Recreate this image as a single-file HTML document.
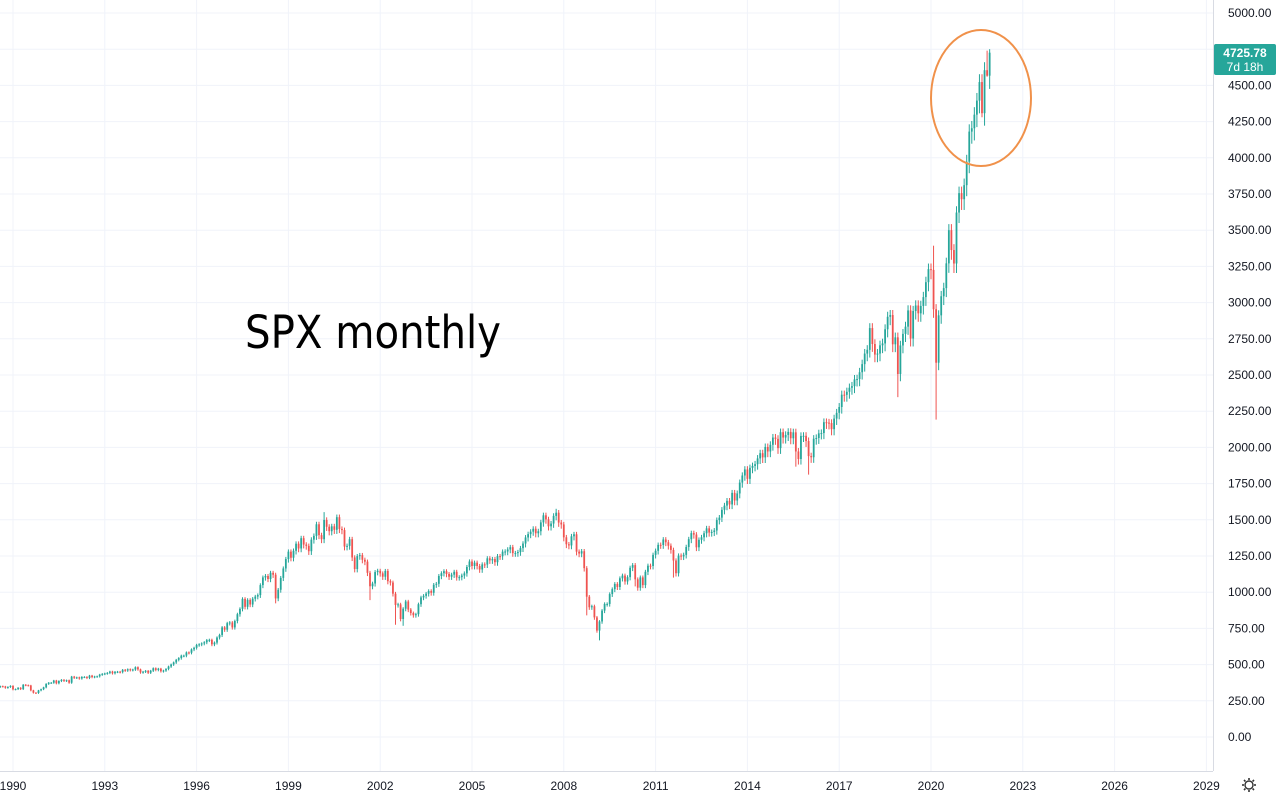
<!DOCTYPE html>
<html><head><meta charset="utf-8"><style>
html,body{margin:0;padding:0;background:#fff;overflow:hidden}
svg{display:block}
text{font-family:"Liberation Sans",sans-serif}
</style></head><body>
<svg id="c" width="1280" height="798">
<g id="grid"></g>
<g id="candles"></g>
<g id="yaxis"></g>
<g id="xaxis"></g>
<text x="245" y="348" font-size="45" fill="#000" textLength="256" lengthAdjust="spacingAndGlyphs" style="font-family:'DejaVu Sans',sans-serif">SPX monthly</text>
<ellipse cx="981" cy="98" rx="50" ry="68" fill="none" stroke="#f0914a" stroke-width="2"/>
<g>
<rect x="1214" y="44" width="62" height="31" rx="2" fill="#26a69a"/>
<text x="1245" y="57" font-size="12" font-weight="bold" fill="#fff" text-anchor="middle">4725.78</text>
<text x="1245" y="71" font-size="12" fill="#fff" text-anchor="middle">7d 18h</text>
</g>
<g transform="translate(1249,785)">
<circle r="4" fill="none" stroke="#333" stroke-width="1.4"/>
<g stroke="#333" stroke-width="1.6"><line x1="0" y1="-7" x2="0" y2="-5"/><line x1="0" y1="5" x2="0" y2="7"/><line x1="-7" y1="0" x2="-5" y2="0"/><line x1="5" y1="0" x2="7" y2="0"/><line x1="-5" y1="-5" x2="-3.6" y2="-3.6"/><line x1="5" y1="5" x2="3.6" y2="3.6"/><line x1="-5" y1="5" x2="-3.6" y2="3.6"/><line x1="5" y1="-5" x2="3.6" y2="-3.6"/></g>
</g>
</svg>
<script>
const startYear = 1989, startMonth = 7; // Aug 1989 (0-based month)
const closes = [351,349,340,346,353,
329,331,340,331,361,358,356,322,306,304,322,330,
343,367,375,375,390,371,387,395,388,392,375,417,
409,412,404,415,415,408,424,414,418,419,431,436,
439,443,452,440,450,451,448,464,459,468,462,466,
482,467,446,451,457,444,458,475,463,472,454,459,
470,487,501,515,533,545,562,562,584,582,605,616,
636,640,646,654,669,671,640,652,687,705,757,741,
786,791,757,801,848,885,954,899,947,915,955,970,
980,1049,1102,1112,1091,1134,1121,957,1017,1099,1164,1229,
1280,1238,1286,1335,1302,1373,1329,1320,1283,1363,1389,1469,
1394,1366,1499,1452,1421,1455,1431,1518,1437,1429,1315,1320,
1366,1240,1160,1249,1256,1224,1211,1134,1041,1060,1139,1148,
1130,1107,1147,1076,1067,990,912,916,815,886,936,880,
856,841,848,917,964,975,990,1008,996,1051,1058,1112,
1131,1145,1126,1107,1121,1141,1102,1104,1115,1130,1174,1212,
1181,1204,1181,1157,1192,1191,1234,1220,1229,1207,1249,1248,
1280,1281,1295,1311,1270,1270,1277,1304,1336,1378,1401,1418,
1438,1407,1421,1482,1531,1503,1455,1474,1527,1549,1481,1468,
1379,1331,1323,1386,1400,1280,1267,1283,1166,969,896,903,
826,735,798,873,919,919,987,1021,1057,1036,1096,1115,
1074,1104,1169,1187,1089,1031,1102,1049,1141,1183,1181,1258,
1286,1327,1326,1364,1345,1321,1292,1219,1131,1253,1247,1258,
1312,1366,1408,1398,1310,1362,1379,1407,1441,1412,1416,1426,
1498,1515,1569,1598,1631,1606,1686,1633,1682,1757,1806,1848,
1783,1859,1872,1884,1924,1960,1931,2003,1972,2018,2068,2059,
1995,2105,2068,2086,2107,2063,2104,1972,1920,2079,2080,2044,
1940,1932,2060,2065,2097,2099,2174,2171,2168,2126,2199,2239,
2279,2364,2363,2384,2412,2423,2470,2472,2519,2575,2648,2674,
2824,2714,2641,2648,2705,2718,2816,2902,2914,2712,2760,2507,
2704,2784,2834,2946,2752,2942,2980,2926,2977,3038,3141,3231,
3226,2954,2585,2912,3044,3100,3271,3500,3363,3270,3622,3756,
3714,3811,3973,4181,4204,4298,4395,4523,4308,4605,4567,4726];
const firstOpen = 346;
const lowOverrides = {"1998-7":923,"2001-8":945,"2002-6":775,"2002-9":768,"2008-9":840,"2009-2":667,"2015-7":1867,"2016-0":1812,"2018-11":2347,"2020-2":2192,"2010-4":1040,"2011-7":1101,"2021-8":4280,"2021-10":4560};
const highOverrides = {"2020-1":3393,"2007-9":1576,"2000-2":1553,"2021-11":4750,"2021-10":4740};
const yTicks = [0,250,500,750,1000,1250,1500,1750,2000,2250,2500,2750,3000,3250,3500,3750,4000,4250,4500,4750,5000];
const xTickYears = [1990,1993,1996,1999,2002,2005,2008,2011,2014,2017,2020,2023,2026,2029];

const NS="http://www.w3.org/2000/svg";
function yS(v){return 737 - v*0.1448;}
function xS(yr,m){return 13 + (yr-1990)*30.6 + m*2.55;}
function mk(tag,attrs,parent){const e=document.createElementNS(NS,tag);for(const k in attrs)e.setAttribute(k,attrs[k]);parent.appendChild(e);return e;}
const grid=document.getElementById('grid'),cg=document.getElementById('candles'),ya=document.getElementById('yaxis'),xa=document.getElementById('xaxis');
mk('rect',{x:1213,y:0,width:67,height:798,fill:'#fff'},ya);
yTicks.forEach(v=>{
  const l=mk('line',{x1:0,x2:1213,y1:yS(v),y2:yS(v),stroke:'#f0f3fa','stroke-width':1},grid);
  
  
  if(v===4750) return;
  const t=mk('text',{x:1228,y:yS(v)+4,'font-size':12,fill:'#131722'},ya);
  
  
  t.textContent=v.toFixed(2);
});
xTickYears.forEach(y=>{
  const x=xS(y,0);
  const l=mk('line',{x1:x,x2:x,y1:0,y2:771,stroke:'#f0f3fa','stroke-width':1},grid);
  
  
  const t=mk('text',{x:x,y:790,'font-size':12,fill:'#131722','text-anchor':'middle'},xa);
  
  
  t.textContent=y;
});
mk('line',{x1:1213.5,x2:1213.5,y1:0,y2:771,stroke:'#d8dbe3'},ya);
mk('line',{x1:0,x2:1213,y1:771.5,y2:771.5,stroke:'#d8dbe3'},xa);
let prev=firstOpen;
closes.forEach((c,i)=>{
  const mi=startMonth+i, yr=startYear+Math.floor(mi/12), m=mi%12, key=yr+'-'+m;
  const o=prev; prev=c;
  const up=c>=o, col=up?'#26a69a':'#ef5350';
  let hi=Math.max(o,c)*1.012, lo=Math.min(o,c)*0.98;
  if(lowOverrides[key]!==undefined) lo=lowOverrides[key];
  if(highOverrides[key]!==undefined) hi=highOverrides[key];
  const x=xS(yr,m);
  const g=mk('g',{},cg);
  
  
  mk('line',{x1:x,x2:x,y1:yS(hi),y2:yS(lo),stroke:col,'stroke-width':1},g);
  const t=yS(Math.max(o,c)), b=yS(Math.min(o,c));
  mk('rect',{x:x-0.9,y:t,width:1.8,height:Math.max(1,b-t),fill:col},g);
});
</script>
</body></html>
